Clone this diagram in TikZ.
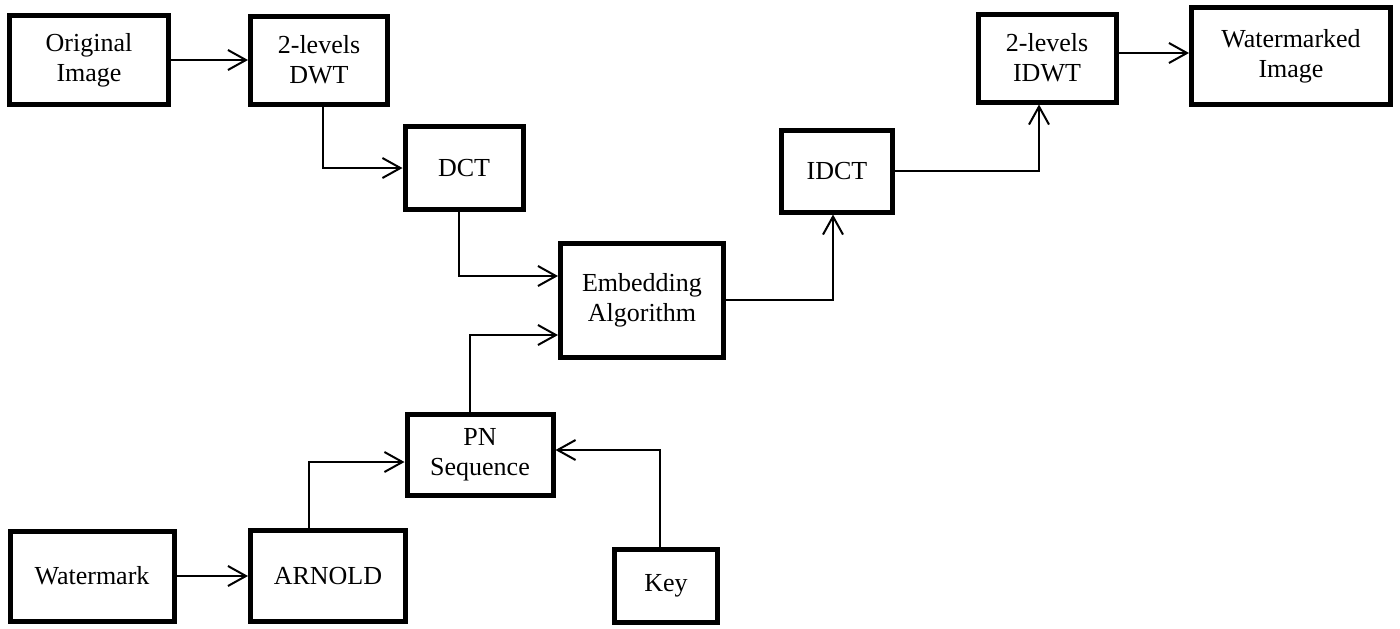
\documentclass[tikz,border=0pt]{standalone}
\usepackage{fontspec}
\setmainfont{Liberation Serif}
\usetikzlibrary{arrows.meta}

\begin{document}
\begin{tikzpicture}[x=0.5pt, y=-0.5pt]
			\tikzset{boite/.style={draw=black, line width=2.5pt, align=center, inner sep=1pt, font=\fontsize{13pt}{15pt}\selectfont}, fleche/.style={>={Straight Barb[length=9pt, width=10pt]}, ->, line width=1pt}};

			\useasboundingbox (0,0) rectangle (1400,628);

			\node[boite, minimum width=79.5pt, minimum height=44.5pt] (orig) at (  89,   60) {Original\\Image};
			\node[boite, minimum width=68.5pt, minimum height=44pt]   (dwt)  at ( 319,   60) {2-levels\\DWT};
			\node[boite, minimum width=59pt,   minimum height=41.5pt] (dct)  at ( 464,  168) {DCT};
			\node[boite, minimum width=81.5pt, minimum height=57pt]   (emb)  at ( 642,  300) {Embedding\\Algorithm};
			\node[boite, minimum width=55.5pt, minimum height=41pt]   (idct) at ( 837,  171) {IDCT};
			\node[boite, minimum width=69pt,   minimum height=44pt]   (idwt) at (1047,   58) {2-levels\\IDWT};
			\node[boite, minimum width=99.5pt, minimum height=48.5pt] (wimg) at (1291,   56) {Watermarked\\Image};

			\node[boite, minimum width=73pt,   minimum height=40.5pt] (pn)   at ( 480,  455) {PN\\Sequence};
			\node[boite, minimum width=82pt,   minimum height=45pt]   (wm)   at (  92,  576) {Watermark};
			\node[boite, minimum width=77.5pt, minimum height=45.5pt] (arn)  at ( 328,  576) {ARNOLD};
			\node[boite, minimum width=51.5pt, minimum height=36.5pt] (key)  at ( 666,  586) {Key};

			\draw[fleche] (orig) to (dwt);
			\draw[fleche] ([xshift=2pt]dwt.south) |- (dct.west);
			\draw[fleche] ([xshift=-2.5pt]dct.south) |- ([yshift=12pt]emb.west);
			\draw[fleche] ([xshift=-5pt]pn.north) |- ([yshift=-17.5pt]emb.west);
			\draw[fleche] (emb.east) -| ([xshift=-2pt]idct.south);
			\draw[fleche] (idct.east) -| ([xshift=-4pt]idwt.south);
			\draw[fleche] ([yshift=2.5pt]idwt.east) to ([yshift=1.5pt]wimg.west);

			\draw[fleche] (wm) to (arn);
			\draw[fleche] ([xshift=-9.5pt]arn.north) |- ([yshift=-3.5pt]pn.west);
			\draw[fleche] ([xshift=-3pt]key.north) |- ([yshift=2.5pt]pn.east);

		\end{tikzpicture}
\end{document}
